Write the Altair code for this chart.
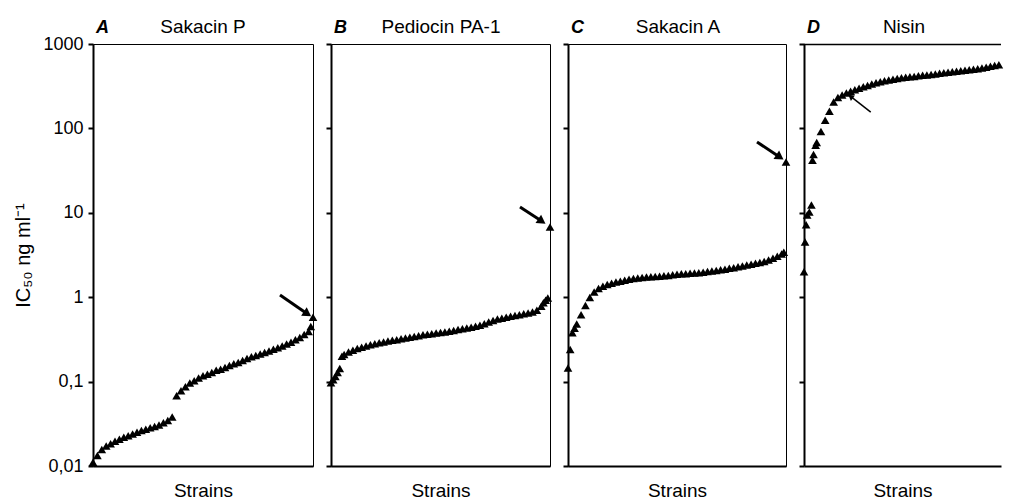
import altair as alt
import pandas as pd

FONT = "Liberation Sans, Arial, sans-serif"

# ---------------- data ----------------
panel_titles = ["Sakacin P", "Pediocin PA-1", "Sakacin A", "Nisin"]
panel_letters = ["A", "B", "C", "D"]
y_ticks = [0.01, 0.1, 1, 10, 100, 1000]

# strain rank (percent of strains, sorted) and IC50 (ng/ml)
rank_a = [0, 2, 4, 6, 8, 10, 12, 14, 16, 18, 20, 22, 24, 26, 28, 30, 32, 34, 36,
          38, 40, 42, 44, 46, 48, 50, 52, 54, 56, 58, 60, 62, 64, 66, 68, 70, 72,
          74, 76, 78, 80, 82, 84, 86, 88, 90, 92, 94, 96, 98, 99, 100]
ic50_a = [0.0111, 0.0133, 0.0157, 0.0172, 0.0184, 0.0197, 0.0208, 0.0219, 0.0229,
          0.0240, 0.0251, 0.0263, 0.0273, 0.0283, 0.0293, 0.0306, 0.0326, 0.0345,
          0.0380, 0.068, 0.078, 0.087, 0.096, 0.102, 0.110, 0.117, 0.122, 0.128,
          0.136, 0.140, 0.147, 0.155, 0.163, 0.168, 0.178, 0.188, 0.197, 0.204,
          0.212, 0.221, 0.231, 0.242, 0.252, 0.265, 0.278, 0.292, 0.313, 0.333,
          0.362, 0.392, 0.45, 0.58]

rank_b = [0, 1, 2, 3, 4, 5, 6, 8, 10, 12, 14, 16, 18, 20, 22, 24, 26, 28, 30, 32,
          34, 36, 38, 40, 42, 44, 46, 48, 50, 52, 54, 56, 58, 60, 62, 64, 66, 68,
          70, 72, 74, 76, 78, 80, 82, 84, 86, 88, 90, 92, 94, 96, 97, 98, 99, 100]
ic50_b = [0.097, 0.105, 0.115, 0.128, 0.143, 0.20, 0.21, 0.225, 0.236, 0.246,
          0.256, 0.264, 0.273, 0.281, 0.288, 0.295, 0.302, 0.308, 0.313, 0.321,
          0.328, 0.335, 0.342, 0.350, 0.358, 0.365, 0.370, 0.376, 0.382, 0.387,
          0.396, 0.404, 0.414, 0.422, 0.432, 0.442, 0.452, 0.465, 0.485, 0.51,
          0.53, 0.55, 0.565, 0.58, 0.595, 0.608, 0.62, 0.635, 0.65, 0.67, 0.70,
          0.78, 0.86, 0.92, 0.98, 6.8]

rank_c = [0, 1, 2, 3, 4, 6, 8, 10, 12, 14, 16, 18, 20, 22, 24, 26, 28, 30, 32, 34,
          36, 38, 40, 42, 44, 46, 48, 50, 52, 54, 56, 58, 60, 62, 64, 66, 68, 70,
          72, 74, 76, 78, 80, 82, 84, 86, 88, 90, 92, 94, 96, 98, 99, 100]
ic50_c = [0.145, 0.24, 0.38, 0.43, 0.48, 0.62, 0.80, 0.99, 1.15, 1.27, 1.35, 1.41,
          1.46, 1.51, 1.55, 1.59, 1.63, 1.66, 1.69, 1.71, 1.73, 1.75, 1.76, 1.77,
          1.79, 1.81, 1.84, 1.87, 1.89, 1.90, 1.92, 1.93, 1.95, 1.98, 2.01, 2.04,
          2.07, 2.11, 2.15, 2.20, 2.24, 2.29, 2.35, 2.40, 2.46, 2.52, 2.58, 2.65,
          2.76, 2.90, 3.05, 3.25, 3.40, 40]

rank_d = [0, 0.5, 1, 1.5, 2.5, 3.5, 4, 4.5, 5.5, 6, 8, 10, 12, 14, 16, 18, 20, 22,
          24, 26, 28, 30, 32, 34, 36, 38, 40, 42, 44, 46, 48, 50, 52, 54, 56, 58,
          60, 62, 64, 66, 68, 70, 72, 74, 76, 78, 80, 82, 84, 86, 88, 90, 92, 94,
          96, 98, 100]
ic50_d = [2.0, 4.5, 7.2, 9.4, 10.2, 12.4, 42, 49, 63, 68, 92, 125, 160, 205, 232,
          248, 262, 275, 288, 300, 311, 322, 335, 348, 358, 366, 375, 382, 390,
          398, 404, 408, 413, 420, 425, 430, 436, 442, 449, 455, 462, 469, 476,
          481, 488, 495, 502, 510, 520, 532, 545, 555, 568, 582, 598, 612, 628]

# arrows: tail (rank, IC50) -> head (rank, IC50)
arrow_tail_rank = [85, 86.3, 86.7, 31.5]
arrow_tail_ic50 = [1.06, 11.7, 69, 156]
arrow_head_rank = [97.5, 96.3, 97.2, 22.0]
arrow_head_ic50 = [0.634, 7.95, 45.6, 239]

ranks = [rank_a, rank_b, rank_c, rank_d]
values = [ic50_a, ic50_b, ic50_c, ic50_d]

# ---------------- styling / layout ----------------
panel_widths = [220, 219, 218, 197]
x_max = [100, 100, 100, 93]      # panel D is cut at the right edge of the figure
arrow_angles = [34, 34, 34, 217]
arrow_widths = [3, 3, 3, 1.5]
head_sizes = [100, 100, 100, 45]
PLOT_H = 422


def make_panel(i):
    df = pd.DataFrame({"rank": ranks[i], "ic50": values[i]})
    yscale = alt.Scale(type="log", domain=[0.01, 1000], nice=False)
    xscale = alt.Scale(domain=[0, x_max[i]], nice=False, zero=False)
    first = i == 0
    yaxis_kwargs = dict(
        values=y_ticks, grid=False, tickSize=5, tickWidth=2, domainWidth=2,
        domainColor="black", tickColor="black",
        labels=first, labelFontSize=18, labelPadding=5, labelColor="black",
        labelFont=FONT,
        labelExpr="replace(toString(datum.value), '.', ',')",
    )
    if first:
        yaxis = alt.Axis(title="IC\u2085\u2080 ng ml\u207b\u00b9", titleFontSize=20,
                         titleFontWeight="normal", titlePadding=9,
                         titleColor="black", titleFont=FONT, **yaxis_kwargs)
    else:
        yaxis = alt.Axis(title=None, **yaxis_kwargs)
    xaxis = alt.Axis(title="Strains", ticks=False, labels=False, grid=False,
                     domainWidth=2, domainColor="black", titleFontSize=19,
                     titleFontWeight="normal", titlePadding=15,
                     titleColor="black", titleFont=FONT)

    pts = alt.Chart(df).transform_filter(
        alt.datum.rank <= x_max[i]
    ).mark_point(
        shape="triangle-up", filled=True, size=75, color="black", opacity=1,
        strokeWidth=0,
    ).encode(
        x=alt.X("rank:Q", scale=xscale, axis=xaxis),
        y=alt.Y("ic50:Q", scale=yscale, axis=yaxis),
    )

    adf = pd.DataFrame({
        "x0": [arrow_tail_rank[i]], "y0": [arrow_tail_ic50[i]],
        "x1": [arrow_head_rank[i]], "y1": [arrow_head_ic50[i]],
    })
    shaft = alt.Chart(adf).mark_rule(color="black", strokeWidth=arrow_widths[i]).encode(
        x=alt.X("x0:Q", scale=xscale), y=alt.Y("y0:Q", scale=yscale),
        x2="x1:Q", y2="y1:Q",
    )
    head = alt.Chart(adf).mark_point(
        shape="triangle-right", filled=True, size=head_sizes[i], color="black",
        opacity=1, strokeWidth=0, angle=arrow_angles[i],
    ).encode(x=alt.X("x1:Q", scale=xscale), y=alt.Y("y1:Q", scale=yscale))

    lab = pd.DataFrame({"letter": [panel_letters[i]], "name": [panel_titles[i]]})
    letter = alt.Chart(lab).mark_text(
        font=FONT, fontSize=18, fontStyle="italic", fontWeight="bold",
        align="left", baseline="alphabetic", color="black",
    ).encode(x=alt.value(3), y=alt.value(-11), text="letter:N")
    name = alt.Chart(lab).mark_text(
        font=FONT, fontSize=19, align="center", baseline="alphabetic", color="black",
    ).encode(x=alt.value(110 if i < 3 else 100), y=alt.value(-11), text="name:N")

    layers = [pts, shaft, head, letter, name]
    props = dict(width=panel_widths[i], height=PLOT_H)
    if i == 3:
        top_line = alt.Chart(lab).mark_rule(color="black", strokeWidth=1.5).encode(
            y=alt.value(0.5))
        layers.append(top_line)
        props["view"] = alt.ViewConfig(stroke="transparent")
    return alt.layer(*layers).properties(**props)


chart = alt.hconcat(*[make_panel(i) for i in range(4)], spacing=6).properties(
    padding={"left": 5, "top": 9, "right": 0, "bottom": 0},
    background="white",
).configure_view(
    stroke="black", strokeWidth=1
).configure_axis(
    domainColor="black", tickColor="black", labelColor="black", titleColor="black",
    labelFont=FONT, titleFont=FONT,
)

chart.save("out.html", embed_options={"renderer": "svg", "actions": False})
